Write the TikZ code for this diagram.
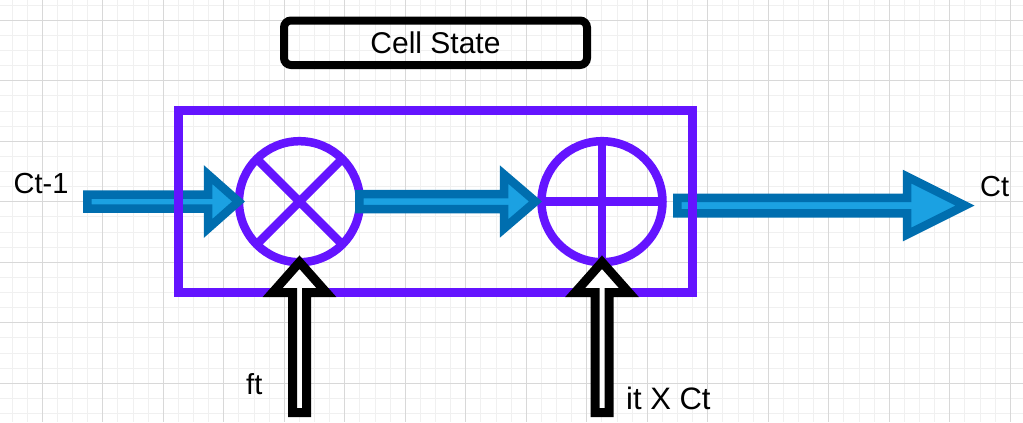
\documentclass[tikz,border=0pt]{standalone}
\usepackage{fontspec}
\setmainfont{Liberation Sans}
\usetikzlibrary{calc}
\definecolor{gridminor}{HTML}{F0F0F0}
\definecolor{gridmajor}{HTML}{D8D8D8}
\definecolor{gatepurple}{HTML}{6414FF}
\definecolor{arrowfill}{HTML}{1BA1E2}
\definecolor{arrowline}{HTML}{006EAF}
% #1 style, #2 from, #3 tip, #4 shaft half width, #5 head half width, #6 head length
\newcommand\blockarrow[6]{%
  \draw[#1] let \p1=($(#3)-(#2)$), \n1={veclen(\x1,\y1)}, \n2={atan2(\y1,\x1)} in
    [shift={(#2)}, rotate=\n2]
    ({0pt},{#4}) -- ({\n1-#6},{#4}) -- ({\n1-#6},{#5}) -- ({\n1},{0pt})
    -- ({\n1-#6},{-#5}) -- ({\n1-#6},{-#4}) -- ({0pt},{-#4}) -- cycle;}
\begin{document}
\begin{tikzpicture}[x=1bp,y=-1bp,
  lbl/.style={inner sep=0pt, anchor=base west, font=\fontsize{29bp}{34bp}\selectfont},
  ring/.style={circle, draw=gatepurple, line width=8.5bp, minimum size=121bp, inner sep=0pt, outer sep=0pt},
  gateline/.style={draw=gatepurple, line width=8.5bp},
  cellarrow/.style={draw=arrowline, fill=arrowfill, line width=8.5bp, line join=miter},
  inputarrow/.style={draw=black, fill=white, line width=9bp, line join=miter},
  gminor/.style={draw=gridminor, line width=1bp},
  gmajor/.style={draw=gridmajor, line width=1bp}]
\useasboundingbox (0,0) rectangle (1023,422);
\fill[white] (0,0) rectangle (1023,422);
% grid
\foreach \i in {0,...,66} \draw[gminor] ({12.05+15.125*\i},0) -- ({12.05+15.125*\i},422);
\foreach \i in {0,...,27} \draw[gminor] (0,{5.2+15.125*\i}) -- (1023,{5.2+15.125*\i});
\foreach \i in {0,...,16} \draw[gmajor] ({42.3+60.5*\i},0) -- ({42.3+60.5*\i},422);
\foreach \i in {0,...,6} \draw[gmajor] (0,{20.3+60.5*\i}) -- (1023,{20.3+60.5*\i});
% gates
\node[ring] (mult) at (299.5,201.7) {};
\node[ring] (add) at (602,201.7) {};
\draw[gateline] (mult.45) -- (mult.225) (mult.135) -- (mult.315);
\draw[gateline] (add.north) -- (add.south) (add.west) -- (add.east);
% cell state arrows
\coordinate (inS) at (87.25,201.5);
\coordinate (inT) at (238.5,201.5);
\coordinate (midS) at (359.25,201.5);
\coordinate (midT) at (535.5,201.5);
\coordinate (outS) at (677.25,205.5);
\coordinate (outT) at (965,205.5);
\blockarrow{cellarrow}{inS}{inT}{7bp}{27bp}{30.5bp}
\blockarrow{cellarrow}{midS}{midT}{7.5bp}{27bp}{31.5bp}
\blockarrow{cellarrow}{outS}{outT}{7.75bp}{29bp}{58bp}
% block
\node[draw=gatepurple, line width=9bp, minimum width=513.5bp, minimum height=181.5bp,
      inner sep=0pt, outer sep=0pt] (block) at (435.25,201.45) {};
% input arrows
\coordinate (ftS) at (299.5,412.5);
\coordinate (itS) at (602,412.5);
\blockarrow{inputarrow}{ftS}{mult.south}{7bp}{27bp}{30.5bp}
\blockarrow{inputarrow}{itS}{add.south}{7bp}{27bp}{30.5bp}
% title
\node[draw=black, line width=8bp, rounded corners=7bp, minimum width=303bp, minimum height=44.5bp,
      inner sep=0pt, font=\fontsize{30bp}{36bp}\selectfont] (state) at (435.5,42.75) {Cell State};
% labels
\node[lbl] (lctm) at (13.5,193.3) {Ct-1};
\node[lbl] (lct) at (980,196.7) {Ct};
\node[lbl] (lft) at (246,394.3) {ft};
\node[lbl, font=\fontsize{31bp}{36bp}\selectfont] (lit) at (626,409.3) {it X Ct};
\end{tikzpicture}
\end{document}
